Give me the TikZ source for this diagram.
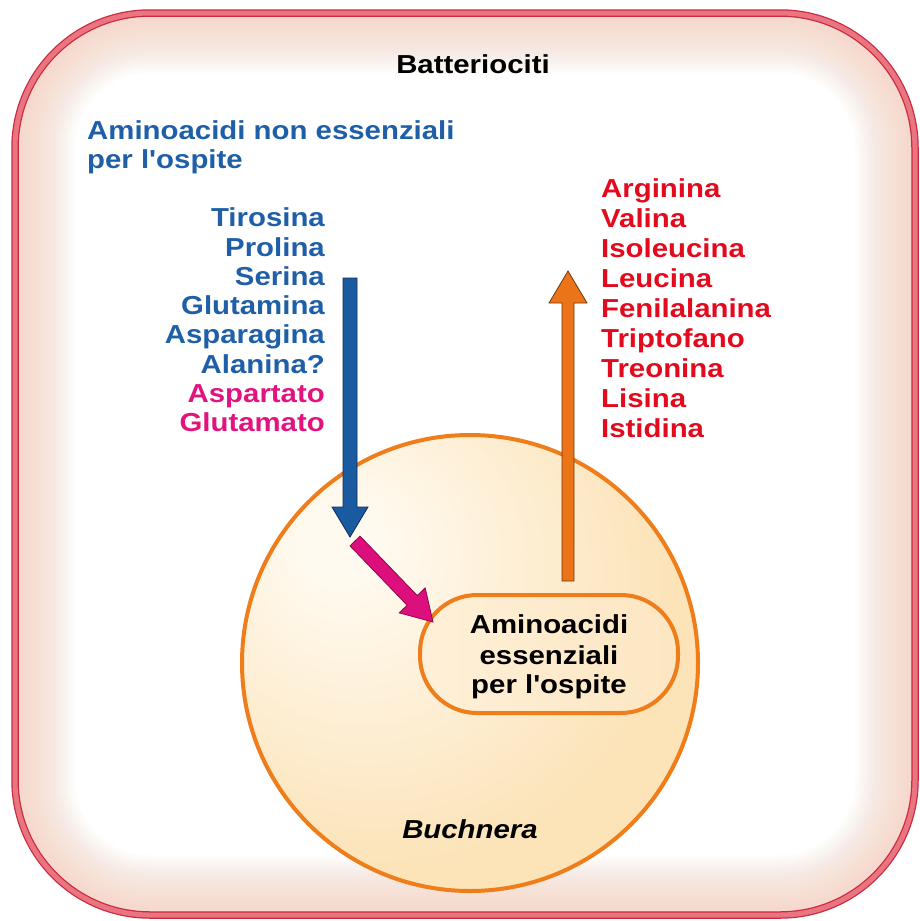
\documentclass[tikz,border=0pt]{standalone}
\usepackage{fontspec}
\setmainfont{Liberation Sans}[FakeStretch=1.13, Ligatures=TeXOff]
\usetikzlibrary{calc}

\definecolor{bluetxt}{HTML}{1E5FA8}
\definecolor{bluearr}{HTML}{1A5AA0}
\definecolor{bluedark}{HTML}{0F2E5A}
\definecolor{magtxt}{HTML}{E2137F}
\definecolor{magarr}{HTML}{DC0F7C}
\definecolor{magdark}{HTML}{8A0A4C}
\definecolor{redtxt}{HTML}{E30A1E}
\definecolor{orangeline}{HTML}{EF7D1A}
\definecolor{orangearr}{HTML}{EC7418}
\definecolor{orangedark}{HTML}{6B3A10}
\definecolor{borderpink}{HTML}{EA7580}
\definecolor{borderdark}{HTML}{C92A40}
\definecolor{peach}{HTML}{F6CDBB}
\definecolor{creamA}{HTML}{FCE3B8}
\definecolor{creamB}{HTML}{FFFAF0}
\definecolor{boxA}{HTML}{FEF0D8}
\definecolor{boxB}{HTML}{FDE6C2}

\pgfdeclareradialshading{buchshade}{\pgfpoint{-15bp}{14bp}}{color(0bp)=(creamB); color(4bp)=(creamB); color(32bp)=(creamA); color(90bp)=(creamA)}

\newcommand\blockarrow[7]{%
  \coordinate (#1-hb) at ($(#2)!#5!(#1)$);
  \filldraw[fill=#6, draw=#7, line width=0.8pt, line join=miter]
    ($(#1)!#3!90:(#2)$) -- ($(#1-hb)!#3!90:(#2)$) -- ($(#1-hb)!#4!90:(#2)$) -- (#2)
    -- ($(#1-hb)!#4!-90:(#2)$) -- ($(#1-hb)!#3!-90:(#2)$) -- ($(#1)!#3!-90:(#2)$) -- cycle;}

\tikzset{
  lbl/.style={inner sep=0pt, font=\bfseries\fontsize{26}{30}\selectfont},
  cellshape/.style={rounded corners=135pt}
}

\begin{document}
\begin{tikzpicture}[x=1pt, y=-1pt]
\useasboundingbox (0,0) rectangle (920,921);
\fill[white] (0,0) rectangle (920,921);

% cell background with soft inner glow
\begin{scope}
  \clip[cellshape] (15,13) rectangle (915,915);
  \fill[white] (15,13) rectangle (915,915);
  \foreach \w in {4,8,...,120} {
    \draw[peach, opacity=0.035, line width=\w pt, cellshape] (15,13) rectangle (915,915);
  }
\end{scope}
\draw[borderdark, line width=7.5pt, cellshape] (15,13) rectangle (915,915);
\draw[borderpink, line width=5pt, cellshape] (15,13) rectangle (915,915);

% Buchnera
\node[circle, minimum size=456pt, inner sep=0pt, draw=orangeline, line width=4pt, shading=buchshade] (buch) at (470,663) {};
\node[draw=orangeline, line width=4pt, rounded corners=57pt, minimum width=258pt, minimum height=118pt, inner sep=0pt, left color=boxA, right color=boxB] (ess) at (549,654) {};

% arrows
\coordinate (bt) at (350,278); \coordinate (bh) at (350,537);
\coordinate (mt) at (355,541); \coordinate (mh) at (433,622);
\coordinate (ot) at (568,581); \coordinate (oh) at (568,271);
\blockarrow{bt}{bh}{7pt}{18pt}{30pt}{bluearr}{bluedark}
\blockarrow{mt}{mh}{7pt}{18pt}{30pt}{magarr}{magdark}
\blockarrow{ot}{oh}{6pt}{19pt}{32pt}{orangearr}{orangedark}

% texts
\node[lbl, anchor=base] (title) at (473,73) {Batteriociti};
\node[lbl, text=bluetxt, anchor=base west] (nes1) at (87,139) {Aminoacidi non essenziali};
\node[lbl, text=bluetxt, anchor=base west] (nes2) at (87,168) {per l'ospite};

\foreach \t [count=\i] in {Tirosina,Prolina,Serina,Glutamina,Asparagina,Alanina?}
  \node[lbl, text=bluetxt, anchor=base east] (nb\i) at (325,{226.7+(\i-1)*29.3}) {\t};
\node[lbl, text=magtxt, anchor=base east] (nb7) at (325,{226.7+6*29.3}) {Aspartato};
\node[lbl, text=magtxt, anchor=base east] (nb8) at (325,{226.7+7*29.3}) {Glutamato};

\foreach \t [count=\i] in {Arginina,Valina,Isoleucina,Leucina,Fenilalanina,Triptofano,Treonina,Lisina,Istidina}
  \node[lbl, text=redtxt, anchor=base west] (nr\i) at (601,{197+(\i-1)*30.1}) {\t};

\node[lbl, anchor=base] (e1) at (549,633) {Aminoacidi};
\node[lbl, anchor=base] (e2) at (549,664) {essenziali};
\node[lbl, anchor=base] (e3) at (549,693) {per l'ospite};

\node[inner sep=0pt, font=\bfseries\itshape\fontsize{26}{30}\selectfont, anchor=base] (buchlbl) at (470,838) {Buchnera};
\end{tikzpicture}
\end{document}
